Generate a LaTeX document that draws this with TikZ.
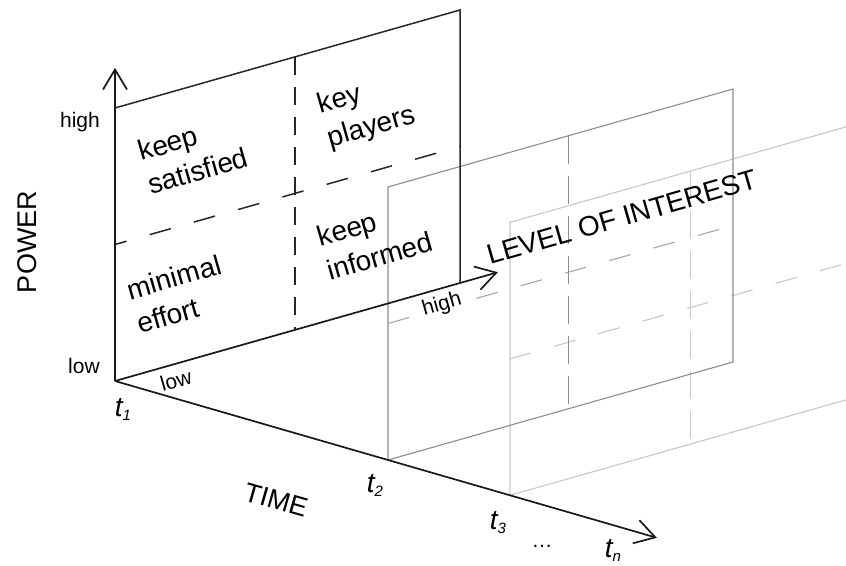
\documentclass[tikz,border=0pt]{standalone}
\usepackage{fontspec}
\setmainfont{Liberation Sans}
\usetikzlibrary{arrows.meta}
% italic t with a small index, for the time stamps
\newcommand{\tstamp}[1]{t\raisebox{-4pt}{\fontsize{15}{16}\selectfont #1}}
\begin{document}
\begin{tikzpicture}[
  % oblique axes: x = level of interest, y = power, z = time
  x={(345pt,98pt)}, y={(0pt,273pt)}, z={(273pt,-79pt)},
  barb/.style={-{Straight Barb[length=20pt,width=24pt]}},
  axisline/.style={line width=1.7pt, draw=black!90, barb},
  frontedge/.style={line width=1.5pt, draw=black!85},
  frontvdash/.style={frontedge, dash pattern=on 18pt off 12pt},
  fronthdash/.style={frontedge, dash pattern=on 22pt off 24pt, dash phase=10pt},
  midedge/.style={line width=1.1pt, draw=black!45},
  midvdash/.style={midedge, dash pattern=on 28pt off 12pt},
  midhdash/.style={midedge, draw=black!35, dash pattern=on 22pt off 24pt},
  backedge/.style={line width=1.1pt, draw=black!22},
  backvdash/.style={backedge, dash pattern=on 28pt off 12pt},
  backhdash/.style={backedge, dash pattern=on 22pt off 24pt},
  biglabel/.style={font=\fontsize{27}{28}\selectfont, inner sep=0pt},
  quadlabel/.style={font=\fontsize{28}{35}\selectfont, align=left, rotate=16, inner sep=0pt},
  ticklabel/.style={font=\fontsize{21}{22}\selectfont, inner sep=0pt},
  timelabel/.style={font=\fontsize{28}{29}\selectfont\itshape, inner sep=0pt},
]
\useasboundingbox (-115pt,-184pt) rectangle (731pt,381pt);
\clip (-115pt,-184pt) rectangle (731pt,381pt);

% ---- axes end points
\coordinate (O) at (0,0,0);
\coordinate (Ptip) at (0,1.147,0);
\coordinate (Itip) at (1.11,0,0);
\coordinate (Ttip) at (0,0,1.985);

% ---- grid at t3 (farthest, lightest)
\coordinate (c3a) at (0,0,1.447);
\coordinate (c3b) at (1,0,1.447);
\coordinate (c3c) at (1,1,1.447);
\coordinate (c3d) at (0,1,1.447);
\coordinate (m3b) at (0.522,0,1.447);
\coordinate (m3t) at (0.522,1,1.447);
\coordinate (h3l) at (0,0.5,1.447);
\coordinate (h3r) at (1,0.5,1.447);
\draw[backedge] (c3a) -- (c3b) -- (c3c) -- (c3d) -- cycle;
\draw[backvdash] (m3t) -- (m3b);
\draw[backhdash] (h3l) -- (h3r);

% ---- grid at t2
\coordinate (c2a) at (0,0,1);
\coordinate (c2b) at (1,0,1);
\coordinate (c2c) at (1,1,1);
\coordinate (c2d) at (0,1,1);
\coordinate (m2b) at (0.522,0,1);
\coordinate (m2t) at (0.522,1,1);
\coordinate (h2l) at (0,0.5,1);
\coordinate (h2r) at (1,0.5,1);
\draw[midedge] (c2a) -- (c2b) -- (c2c) -- (c2d) -- cycle;
\draw[midvdash] (m2t) -- (m2b);
\draw[midhdash] (h2l) -- (h2r);

% label of the high end of the interest axis, sitting on a white patch
\node[ticklabel, rotate=16, fill=white, inner sep=1.5pt] (ihigh) at (327pt,76pt) {high};

% ---- grid at t1 (front)
\coordinate (c1b) at (1,0,0);
\coordinate (c1c) at (1,1,0);
\coordinate (c1d) at (0,1,0);
\coordinate (m1b) at (0.522,0,0);
\coordinate (m1t) at (0.522,1,0);
\coordinate (h1l) at (0,0.5,0);
\coordinate (h1r) at (1,0.5,0);
\draw[frontedge] (c1d) -- (c1c) -- (c1b);
\draw[frontvdash] (m1t) -- (m1b);
\draw[fronthdash] (h1l) -- (h1r);

% ---- axes
\draw[axisline] (O) -- (Ptip);
\draw[axisline] (O) -- (Itip);
\draw[axisline] (O) -- (Ttip);

% ---- axis titles
\node[biglabel, rotate=90] (power) at (-88pt,139pt) {POWER};
\node[biglabel, rotate=-16] (time) at (161pt,-119pt) {TIME};
\node[font=\fontsize{28}{29}\selectfont, inner sep=0pt, rotate=16] (loi) at (507pt,164pt) {LEVEL OF INTEREST};

% ---- scale labels
\node[ticklabel] (phigh) at (-35pt,259pt) {high};
\node[ticklabel] (plow) at (-31pt,15pt) {low};
\node[ticklabel, rotate=16] (ilow) at (61pt,1pt) {low};

% ---- time stamps
\node[timelabel] (t1) at (8pt,-28pt) {\tstamp{1}};
\node[timelabel] (t2) at (260pt,-104pt) {\tstamp{2}};
\node[timelabel] (t3) at (383pt,-142pt) {\tstamp{3}};
\node[ticklabel] (tdots) at (427pt,-165pt) {\dots};
\node[timelabel] (tn) at (498pt,-169pt) {\tstamp{n}};

% ---- quadrant names
\node[quadlabel] (ks) at (78pt,227pt) {keep\\satisfied};
\node[quadlabel] (kp) at (252pt,270pt) {key\\players};
\node[quadlabel] (me) at (64pt,87pt) {minimal\\effort};
\node[quadlabel] (ki) at (260pt,142pt) {keep\\informed};
\end{tikzpicture}
\end{document}
